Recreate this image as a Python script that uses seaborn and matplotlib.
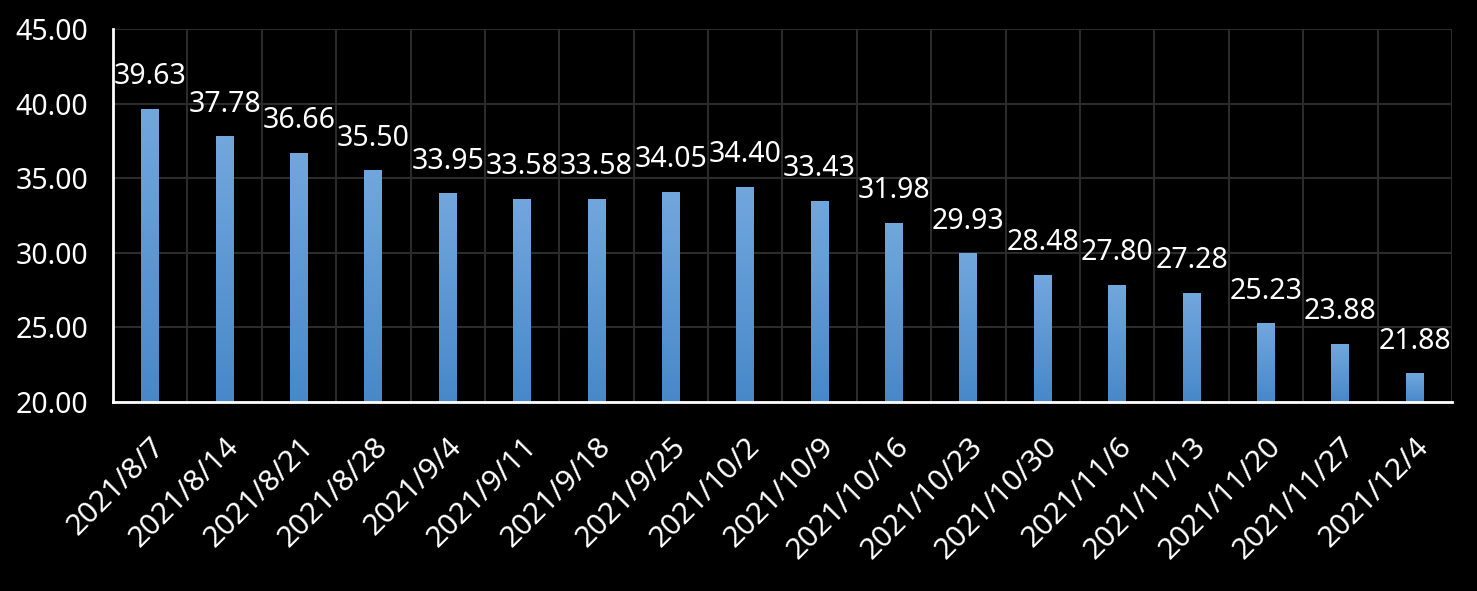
import numpy as np
import pandas as pd
import seaborn as sns
import matplotlib
matplotlib.use("Agg")
from matplotlib import pyplot as plt
from matplotlib.colors import LinearSegmentedColormap

dates = ["2021/8/7", "2021/8/14", "2021/8/21", "2021/8/28", "2021/9/4", "2021/9/11",
         "2021/9/18", "2021/9/25", "2021/10/2", "2021/10/9", "2021/10/16", "2021/10/23",
         "2021/10/30", "2021/11/6", "2021/11/13", "2021/11/20", "2021/11/27", "2021/12/4"]
values = [39.63, 37.78, 36.66, 35.50, 33.95, 33.58, 33.58, 34.05, 34.40, 33.43,
          31.98, 29.93, 28.48, 27.80, 27.28, 25.23, 23.88, 21.88]

df = pd.DataFrame({"date": dates, "value": values})

sns.set_style("dark")
plt.rcParams['font.family'] = ['Noto Sans', 'DejaVu Sans']

fig = plt.figure(figsize=(14.77, 5.91), dpi=100, facecolor="black")
ax = fig.add_axes([0.0765, 0.320, 0.9065, 0.631])
ax.set_facecolor("black")

sns.barplot(data=df, x="date", y="value", color="#5b98d4", width=0.24,
            saturation=1, linewidth=0, ax=ax, zorder=3)

ax.set_xlim(-0.5, len(dates) - 0.5)
ax.set_ylim(20, 45)
ymin = ax.get_ylim()[0]

# gradient fill on each bar (only the visible part above the axis floor)
cmap = LinearSegmentedColormap.from_list("barblue", ["#4888c9", "#72a7dd"])
grad = np.linspace(0, 1, 256).reshape(-1, 1)
for p in ax.patches:
    x0, w, top = p.get_x(), p.get_width(), p.get_y() + p.get_height()
    ax.imshow(grad, cmap=cmap, origin="lower", aspect="auto",
              extent=[x0, x0 + w, ymin, top], zorder=4)
    p.set_visible(False)

ax.set_xlim(-0.5, len(dates) - 0.5)
ax.set_ylim(20, 45)
ax.set_yticks(np.arange(20, 46, 5))
ax.set_yticklabels([f"{v:.2f}" for v in np.arange(20, 46, 5)])

for i, v in enumerate(values):
    ax.annotate(f"{v:.2f}", (i, v), xytext=(0, 13), textcoords="offset points",
                ha="center", va="bottom", color="white", fontsize=20.5, zorder=6)

ax.set_xticks(np.arange(len(dates)))
ax.set_xticklabels(dates, rotation=45, ha="right", va="top", rotation_mode="anchor")
ax.set_xticks(np.arange(len(dates) + 1) - 0.5, minor=True)
ax.tick_params(axis="x", which="major", length=0, pad=22, labelsize=21.5, colors="white")
ax.tick_params(axis="x", which="minor", length=8, width=2, color="white")
ax.tick_params(axis="y", length=0, pad=18, labelsize=20.5, colors="white")

ax.grid(False)
ax.yaxis.grid(True, color="#2b2b2b", linewidth=1.5, zorder=0)
ax.xaxis.grid(True, which="minor", color="#2b2b2b", linewidth=1.5, zorder=0)

for s in ["top", "right"]:
    ax.spines[s].set_visible(False)
for s in ["left", "bottom"]:
    ax.spines[s].set_visible(True)
    ax.spines[s].set_color("white")
    ax.spines[s].set_linewidth(2)
    ax.spines[s].set_zorder(5)

ax.set_xlabel("")
ax.set_ylabel("")

fig.savefig("out.png", dpi=100, facecolor="black")
